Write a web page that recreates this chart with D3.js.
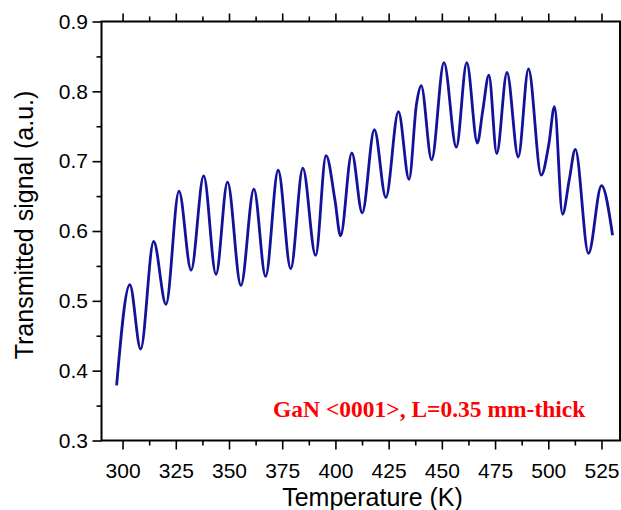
<!DOCTYPE html>
<html>
<head>
<meta charset="utf-8">
<script src="https://cdn.jsdelivr.net/npm/d3@7"></script>
<style>
  body { margin: 0; background: #fff; }
  text { font-family: Arial, "Liberation Sans", sans-serif; }
  text.note { font-family: "Liberation Serif", "Times New Roman", serif; }
</style>
</head>
<body>
<div id="chart"></div>
<script>
// values (extrema plus a few shoulders)
const temperature = [297.2, 303.4, 308.5, 314.6, 320.4, 326.5, 332.2, 338.1, 343.9, 349.3,
  355.6, 361.7, 367.2, 373.1, 379.0, 384.7, 390.7, 395.6, 399.8, 402.4,
  407.7, 412.6, 418.3, 423.7, 429.6, 434.6, 438.1, 440.3, 445.2, 451.0,
  456.8, 461.7, 466.7, 469.2, 472.1, 475.8, 480.6, 485.9, 490.7, 496.7,
  500.3, 502.9, 506.7, 509.9, 512.7, 518.9, 525.0, 530.2];
const signal = [0.379, 0.523, 0.431, 0.585, 0.495, 0.657, 0.544, 0.679, 0.538, 0.670,
  0.522, 0.660, 0.535, 0.687, 0.546, 0.690, 0.565, 0.708, 0.644, 0.593,
  0.712, 0.626, 0.745, 0.648, 0.771, 0.674, 0.782, 0.808, 0.702, 0.841,
  0.720, 0.841, 0.726, 0.772, 0.823, 0.711, 0.827, 0.706, 0.832, 0.680,
  0.725, 0.778, 0.624, 0.674, 0.717, 0.568, 0.665, 0.594];

const xTicks = [300, 325, 350, 375, 400, 425, 450, 475, 500, 525];
const xMinorTicks = [312.5, 337.5, 362.5, 387.5, 412.5, 437.5, 462.5, 487.5, 512.5];
const yTicks = [0.3, 0.4, 0.5, 0.6, 0.7, 0.8, 0.9];
const yMinorTicks = [0.35, 0.45, 0.55, 0.65, 0.75, 0.85];

const W = 621;
const H = 510;
const M = { left: 101.5, right: 620, top: 21.5, bottom: 440.5 };

const svg = d3
  .select("#chart")
  .append("svg")
  .attr("width", W)
  .attr("height", H);

const x = d3.scaleLinear().domain([290.1, 533.7]).range([M.left, M.right]);
const y = d3.scaleLinear().domain([0.3, 0.9]).range([M.bottom, M.top]);

function tidy(g) {
  g.select(".domain").remove();
  g.selectAll(".tick line").attr("stroke", "#000").attr("stroke-width", 1.6);
}

// bottom axis
const gx = svg
  .append("g")
  .attr("transform", `translate(0,${M.bottom})`)
  .call(d3.axisBottom(x).tickValues(xTicks).tickSize(9).tickSizeOuter(0));
gx.call(tidy);
gx.selectAll("text")
  .attr("y", 37.5)
  .attr("dy", 0)
  .attr("font-size", "21px")
  .attr("fill", "#000");
svg
  .append("g")
  .attr("transform", `translate(0,${M.bottom})`)
  .call(d3.axisBottom(x).tickValues(xMinorTicks).tickSize(5).tickFormat(""))
  .call(tidy);

// top axis
svg
  .append("g")
  .attr("transform", `translate(0,${M.top})`)
  .call(d3.axisTop(x).tickValues(xTicks).tickSize(8).tickFormat(""))
  .call(tidy);
svg
  .append("g")
  .attr("transform", `translate(0,${M.top})`)
  .call(d3.axisTop(x).tickValues(xMinorTicks).tickSize(5).tickFormat(""))
  .call(tidy);

// left axis
const gy = svg
  .append("g")
  .attr("transform", `translate(${M.left},0)`)
  .call(d3.axisLeft(y).tickValues(yTicks).tickSize(9).tickFormat(d3.format(".1f")));
gy.call(tidy);
gy.selectAll("text")
  .attr("x", -13.5)
  .attr("font-size", "21px")
  .attr("fill", "#000");
svg
  .append("g")
  .attr("transform", `translate(${M.left},0)`)
  .call(d3.axisLeft(y).tickValues(yMinorTicks).tickSize(5).tickFormat(""))
  .call(tidy);

// frame
svg
  .append("rect")
  .attr("x", M.left)
  .attr("y", M.top)
  .attr("width", M.right - M.left)
  .attr("height", M.bottom - M.top)
  .attr("fill", "none")
  .attr("stroke", "#000")
  .attr("stroke-width", 2);

// curve
const points = temperature.map((t, i) => [t, signal[i]]);
const line = d3
  .line()
  .x((d) => x(d[0]))
  .y((d) => y(d[1]))
  .curve(d3.curveMonotoneX);

svg
  .append("path")
  .datum(points)
  .attr("d", line)
  .attr("fill", "none")
  .attr("stroke", "#12129a")
  .attr("stroke-width", 2.8)
  .attr("stroke-linejoin", "round");

// titles
svg
  .append("text")
  .attr("x", 372.5)
  .attr("y", 506)
  .attr("text-anchor", "middle")
  .attr("font-size", "25px")
  .text("Temperature (K)");

svg
  .append("text")
  .attr("transform", "translate(33,225) rotate(-90)")
  .attr("text-anchor", "middle")
  .attr("font-size", "25px")
  .text("Transmitted signal (a.u.)");

svg
  .append("text")
  .attr("class", "note")
  .attr("x", 273)
  .attr("y", 417)
  .attr("font-weight", "bold")
  .attr("font-size", "23.5px")
  .attr("fill", "#ff0000")
  .text("GaN <0001>, L=0.35 mm-thick");
</script>
</body>
</html>
